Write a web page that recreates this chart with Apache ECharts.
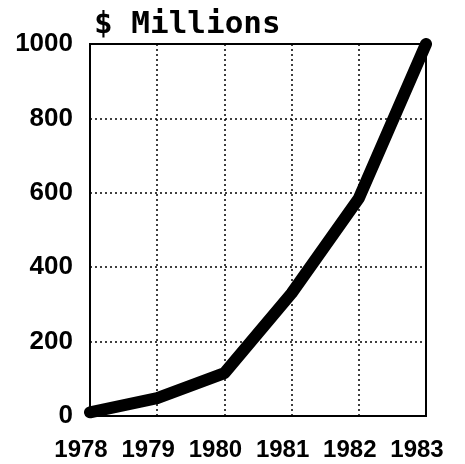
<!DOCTYPE html>
<html>
<head>
<meta charset="utf-8">
<script src="https://cdn.jsdelivr.net/npm/echarts@6/dist/echarts.min.js"></script>
<style>
    html, body { margin: 0; padding: 0; background: #fff; }
    #chartDiv { width: 465px; height: 464px; }
</style>
</head>
<body>
<div id="chartDiv"></div>
<script>
var years = ['1978', '1979', '1980', '1981', '1982', '1983'];
var millions = [10, 48, 115, 330, 585, 1000];
var yTicks = [0, 200, 400, 600, 800, 1000];

function drawChart() {
    var option = {
        backgroundColor: '#fff',
        animation: false,
        title: {
            text: '$ Millions',
            left: 89,
            top: 4,
            textStyle: {
                fontFamily: 'DejaVu Sans Mono',
                fontWeight: 'bold',
                fontSize: 31,
                color: '#000'
            }
        },
        grid: {
            left: 90,
            right: 39,
            top: 44,
            bottom: 48,
            show: true,
            borderColor: '#000',
            borderWidth: 2
        },
        xAxis: {
            type: 'category',
            data: years,
            boundaryGap: false,
            axisLine: { show: false },
            axisTick: { show: false },
            axisLabel: {
                interval: 0,
                hideOverlap: false,
                margin: 22,
                padding: [0, 18, 0, 0],
                fontFamily: 'Liberation Sans',
                fontWeight: 'bold',
                fontSize: 24,
                color: '#000'
            },
            splitLine: {
                show: true,
                interval: 0,
                lineStyle: { color: '#000', type: [2, 3], width: 1.5 }
            }
        },
        yAxis: {
            type: 'value',
            min: yTicks[0],
            max: yTicks[yTicks.length - 1],
            interval: 200,
            axisLine: { show: false },
            axisTick: { show: false },
            axisLabel: {
                margin: 17,
                fontFamily: 'Liberation Sans',
                fontWeight: 'bold',
                fontSize: 26,
                color: '#000',
                formatter: function (v) { return String(v); }
            },
            splitLine: {
                show: true,
                lineStyle: { color: '#000', type: [2, 3], width: 1.5 }
            }
        },
        series: [
            {
                type: 'line',
                data: millions,
                symbol: 'none',
                lineStyle: { color: '#000', width: 12, join: 'round', cap: 'round' }
            }
        ]
    };
    var chart = echarts.init(document.getElementById('chartDiv'));
    chart.setOption(option);
}

drawChart();
</script>
</body>
</html>
